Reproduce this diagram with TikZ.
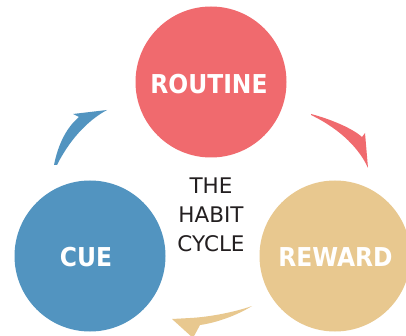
\documentclass[tikz,border=0pt]{standalone}
\usepackage{fontspec}
\setmainfont{DejaVu Sans}
\newfontfamily\labelfont{DejaVu Sans Condensed}
\definecolor{routinec}{RGB}{240,106,110}
\definecolor{cuec}{RGB}{82,148,192}
\definecolor{rewardc}{RGB}{232,200,143}
\definecolor{textc}{RGB}{35,31,32}
\begin{document}
\begin{tikzpicture}[x=1pt,y=-1pt,
  bubble/.style={circle, inner sep=0pt, minimum size=151pt},
  lbl/.style={text=white, inner sep=0pt, font=\labelfont\fontsize{26}{26}\selectfont\bfseries},
  centertext/.style={align=center, text=textc, font=\fontsize{21.5}{29}\selectfont}]
\useasboundingbox (0,0) rectangle (406,336);
\clip (0,0) rectangle (406,336);
\fill[white] (0,0) rectangle (406,336);
\node[bubble, fill=routinec] (routine) at (211,82) {};
\node[bubble, fill=cuec] (cue) at (90,256) {};
\node[bubble, fill=rewardc] (reward) at (335,256) {};
\node[lbl] (routinelbl) at (209,84) {ROUTINE};
\node[lbl] (cuelbl) at (86,257) {CUE};
\node[lbl] (rewardlbl) at (335.5,257) {REWARD};
\node[centertext] (title) at (211,215) {THE\\HABIT\\CYCLE};
% blue arrow: cue -> routine
\fill[cuec] (54,165) .. controls (58,145) and (66,128) .. (79,117) -- (73,114) -- (107,110)
  .. controls (92,118) and (72,135) .. (57,165) -- cycle;
% red arrow: routine -> reward
\fill[routinec] (311,114) .. controls (330,119) and (352,128) .. (362,137) -- (365,133) -- (368,168)
  .. controls (360,150) and (342,130) .. (311,115) -- cycle;
% yellow arrow: reward -> cue
\fill[rewardc] (172,319) -- (193,338) -- (200,325) .. controls (215,323) and (236,316) .. (252,306)
  .. controls (235,312) and (210,317) .. (190,318) -- cycle;
\end{tikzpicture}
\end{document}
